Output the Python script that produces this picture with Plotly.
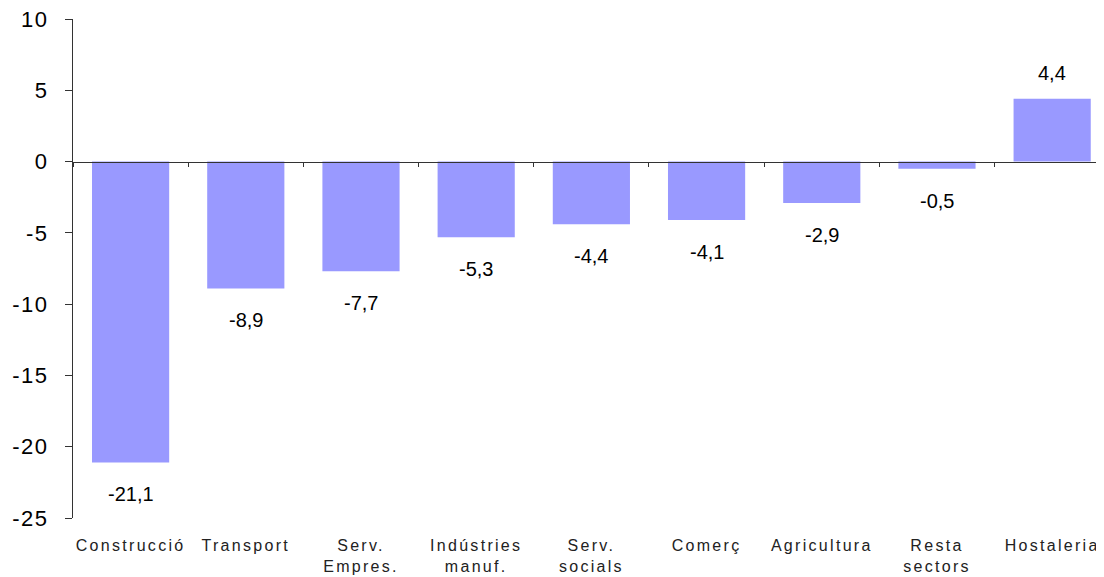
import plotly.graph_objects as go

categories = ["Construcció", "Transport", "Serv.<br>Empres.", "Indústries<br>manuf.",
              "Serv.<br>socials", "Comerç", "Agricultura", "Resta<br>sectors", "Hostaleria"]
values = [-21.1, -8.9, -7.7, -5.3, -4.4, -4.1, -2.9, -0.5, 4.4]
y_ticks = [10, 5, 0, -5, -10, -15, -20, -25]

FONT = "Arial, Liberation Sans, sans-serif"


def spaced(text, px):
    return "<br>".join(f'<span style="letter-spacing:{px}px">{t}</span>' for t in text.split("<br>"))


fig = go.Figure()
fig.add_trace(go.Bar(x=categories, y=values, marker=dict(color="#9999FF", line=dict(width=0)),
                     width=0.67, xaxis="x2", yaxis="y", hoverinfo="skip"))
fig.add_trace(go.Scatter(x=categories, y=[0] * len(categories), mode="markers",
                         marker=dict(opacity=0), xaxis="x", yaxis="y", hoverinfo="skip",
                         showlegend=False))

for c, v in zip(categories, values):
    fig.add_annotation(x=c, y=v, xref="x2", yref="y",
                       text=f"{v:.1f}".replace(".", ","), showarrow=False,
                       yanchor="top" if v < 0 else "bottom",
                       yshift=-19 if v < 0 else 13,
                       font=dict(family=FONT, size=20, color="#000000"))

fig.update_layout(
    width=1096, height=569,
    margin=dict(l=65, r=0, t=11, b=59, autoexpand=False),
    paper_bgcolor="white", plot_bgcolor="white",
    showlegend=False, separators=",.",
    font=dict(family=FONT),
    xaxis=dict(type="category", range=[-0.5, 8.45], anchor="free", position=25 / 35,
               showline=True, linecolor="#333333", linewidth=1,
               ticks="outside", tickson="boundaries", ticklen=4, tickcolor="#333333",
               showticklabels=False, showgrid=False, zeroline=False, automargin=False),
    xaxis2=dict(type="category", overlaying="x", matches="x", anchor="y", side="bottom",
                showline=False, ticks="", showgrid=False, zeroline=False, automargin=False,
                tickmode="array", tickvals=categories,
                ticktext=[spaced(c, 2.3) for c in categories],
                tickfont=dict(family=FONT, size=16, color="#222222"), ticklabelstandoff=16,
                ticklabeloverflow="allow"),
    yaxis=dict(range=[-25, 10], tickmode="array", tickvals=y_ticks,
               ticktext=[spaced(str(t), 1.5) for t in y_ticks],
               showline=True, linecolor="#333333", automargin=False,
               linewidth=1, ticks="outside", ticklen=7, tickcolor="#333333",
               showgrid=False, zeroline=False, ticklabelstandoff=12,
               ticklabeloverflow="allow",
               tickfont=dict(family=FONT, size=22, color="#000000")),
)
fig.write_html("out.html")
